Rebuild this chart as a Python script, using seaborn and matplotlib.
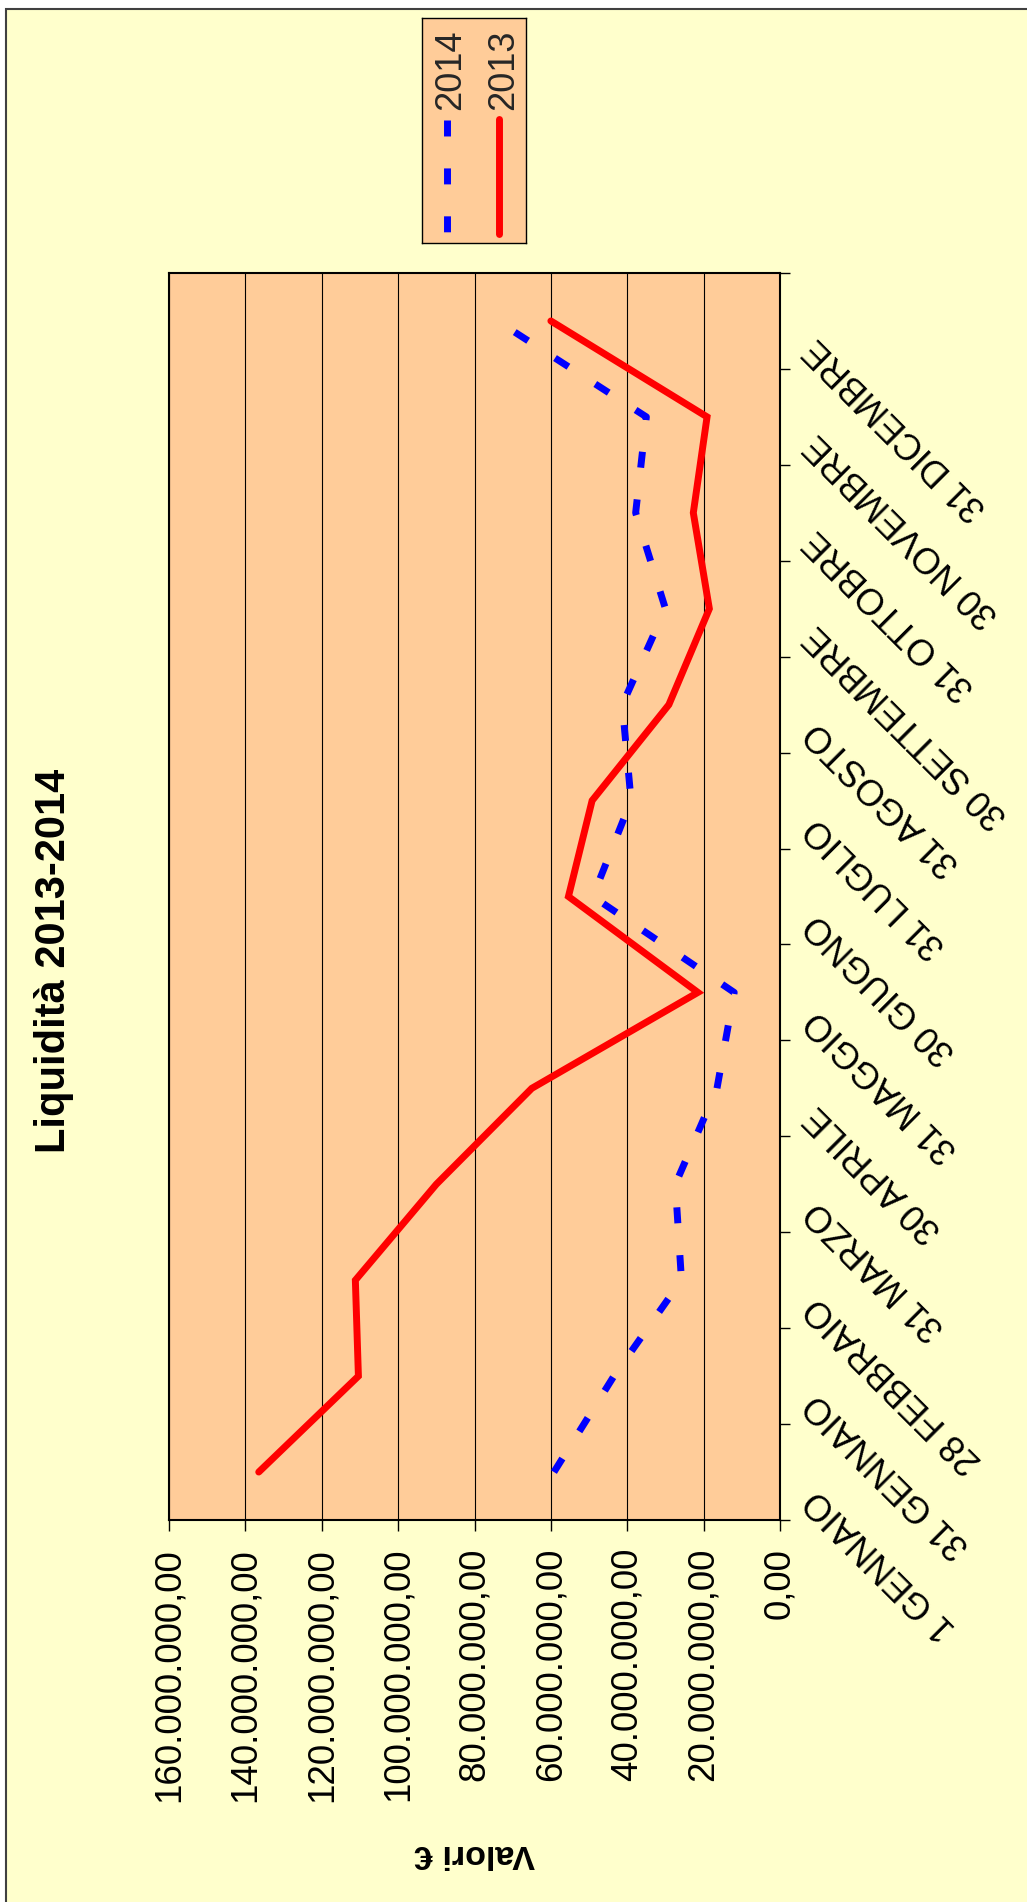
import matplotlib
matplotlib.use("Agg")
import matplotlib.pyplot as plt
import matplotlib.transforms as mtransforms
from matplotlib.patches import Rectangle
import pandas as pd
import seaborn as sns

# categorie (asse verticale, dal basso verso l'alto)
categorie = ["1 GENNAIO", "31 GENNAIO", "28 FEBBRAIO", "31 MARZO", "30 APRILE",
             "31 MAGGIO", "30 GIUGNO", "31 LUGLIO", "31 AGOSTO", "30 SETTEMBRE",
             "31 OTTOBRE", "30 NOVEMBRE", "31 DICEMBRE"]
# valori in milioni di euro
liquidita_2013 = [136.5, 110.4, 111.2, 90.0, 65.0, 21.5, 55.4, 49.2, 29.1, 18.5, 22.7, 19.1, 60.0]
liquidita_2014 = [59.2, 43.5, 25.8, 27.4, 16.5, 12.0, 49.0, 39.0, 41.3, 30.0, 37.8, 35.0, 74.0]
tick_valori = [0, 20, 40, 60, 80, 100, 120, 140, 160]

df = pd.DataFrame({
    "pos": list(range(len(categorie))) * 2,
    "valore": [v * 1e6 for v in liquidita_2013 + liquidita_2014],
    "anno": ["2013"] * len(categorie) + ["2014"] * len(categorie),
})

sns.set_theme(style="white")
plt.rcParams["font.family"] = ["Liberation Sans", "DejaVu Sans"]

W, H, DPI = 1027, 1902, 100
fig = plt.figure(figsize=(W / DPI, H / DPI), dpi=DPI, facecolor="white")

# sfondo giallo con bordo (tagliato a destra e in basso)
fig.add_artist(Rectangle((6 / W, -0.01), 1.02, 1 - 9 / H + 0.01, transform=fig.transFigure,
                         facecolor="#FFFFCC", edgecolor="#404040", lw=1.5, zorder=-10))


def px(x0, y0, x1, y1):
    return [x0 / W, 1 - y1 / H, (x1 - x0) / W, (y1 - y0) / H]


ax = fig.add_axes(px(169, 273, 780, 1520))
ax.set_facecolor("#FFCC99")

sns.lineplot(data=df[df.anno == "2013"], x="valore", y="pos", sort=False, estimator=None,
             color="#FF0000", lw=5, solid_capstyle="round", solid_joinstyle="miter", ax=ax)
sns.lineplot(data=df[df.anno == "2014"], x="valore", y="pos", sort=False, estimator=None,
             color="#0000FF", lw=5, linestyle=(0, (2.3, 4.6)), dash_capstyle="butt", ax=ax)

ax.set_xlim(160e6, 0)
ax.set_ylim(-0.5, len(categorie) - 0.5)


def fmt_it(v):
    s = f"{v:,.2f}"
    return s.replace(",", "X").replace(".", ",").replace("X", ".")


ax.set_xticks([t * 1e6 for t in tick_valori])
ax.set_xticklabels([fmt_it(t * 1e6) for t in tick_valori], rotation=90, fontsize=26.5)
ax.tick_params(axis="x", bottom=True, direction="out", length=8, width=1, color="black",
               pad=12, labelcolor="black")
ax.grid(axis="x", color="black", lw=0.8)
ax.grid(axis="y", visible=False)
ax.set_axisbelow(True)

ax.yaxis.tick_right()
ax.set_yticks([i - 0.5 for i in range(len(categorie) + 1)])
ax.set_yticklabels([])
ax.tick_params(axis="y", right=True, left=False, direction="out", length=7, width=1,
               color="black")
ax.set_ylabel("")

for s in ax.spines.values():
    s.set_visible(True)
    s.set_color("black")
    s.set_linewidth(1.5)

ax.set_xlabel("Valori €", rotation=180, fontsize=24.5, fontweight="bold", color="black")
ax.xaxis.set_label_coords(0.5, -0.255)

# etichette delle categorie, ruotate
off = mtransforms.ScaledTranslation(31 / DPI, -22 / DPI, fig.dpi_scale_trans)
tr = ax.get_yaxis_transform() + off
for i, c in enumerate(categorie):
    ax.text(1.0, i, c, transform=tr, rotation=135, rotation_mode="anchor",
            ha="right", va="center", fontsize=26, color="black")

# titolo
fig.text(54 / W, 1 - 961 / H, "Liquidità 2013-2014", rotation=90, ha="center", va="center",
         fontsize=30, fontweight="bold", color="black")

# legenda verticale
lax = fig.add_axes(px(422, 18, 526, 243))
lax.set_facecolor("#FFCC99")
lax.set_xlim(0, 1)
lax.set_ylim(0, 1)
lax.set_xticks([])
lax.set_yticks([])
for s in lax.spines.values():
    s.set_visible(True)
    s.set_color("black")
    s.set_linewidth(1)
lax.plot([0.237, 0.237], [0.547, 0.049], color="#0000FF", lw=5,
         linestyle=(0, (2.3, 4.6)), dash_capstyle="butt")
lax.plot([0.74, 0.74], [0.553, 0.04], color="#FF0000", lw=5, solid_capstyle="round")
lax.text(0.275, 0.769, "2014", rotation=90, ha="center", va="center", fontsize=26)
lax.text(0.785, 0.769, "2013", rotation=90, ha="center", va="center", fontsize=26)

fig.savefig("out.png", dpi=DPI, facecolor=fig.get_facecolor())
